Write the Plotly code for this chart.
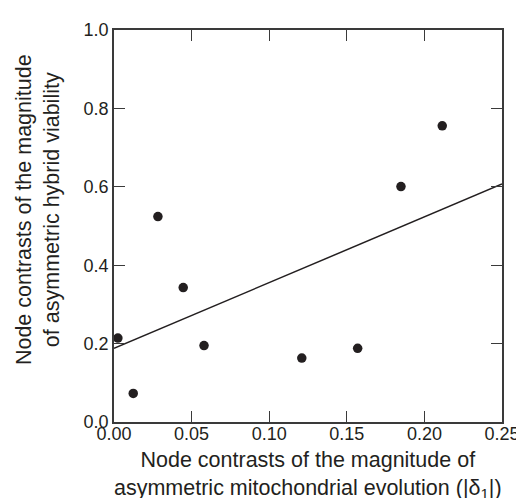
import plotly.graph_objects as go

# Data
mito_x = [0.0025, 0.0124, 0.0283, 0.0446, 0.058, 0.121, 0.157, 0.1849, 0.2115]
hybrid_y = [0.214, 0.073, 0.524, 0.343, 0.195, 0.163, 0.188, 0.6005, 0.7555]
fit_x = [0.0, 0.25]
fit_y = [0.188, 0.607]

x_ticks = [0.0, 0.05, 0.10, 0.15, 0.20, 0.25]
x_ticklabels = ["0.00", "0.05", "0.10", "0.15", "0.20", "0.25"]
y_ticks = [0.0, 0.2, 0.4, 0.6, 0.8, 1.0]
y_ticklabels = ["0.0", "0.2", "0.4", "0.6", "0.8", "1.0"]

FONT = "Liberation Sans, Arial, sans-serif"
INK = "#231f20"
TEXT = "#231f20"

fig = go.Figure()
fig.add_trace(go.Scatter(x=fit_x, y=fit_y, mode="lines",
                         line=dict(color=INK, width=1.5), showlegend=False, hoverinfo="skip"))
fig.add_trace(go.Scatter(x=mito_x, y=hybrid_y, mode="markers",
                         marker=dict(color=INK, size=9.5), showlegend=False))

axis_common = dict(showline=True, linewidth=1.5, linecolor="#3a3a3a", mirror="ticks",
                   ticks="inside", ticklen=11, tickwidth=1.2, tickcolor="#3a3a3a",
                   showgrid=False, zeroline=False,
                   tickfont=dict(family=FONT, size=18, color=TEXT))

fig.update_xaxes(range=[0, 0.25], tickvals=x_ticks, ticktext=x_ticklabels,
                 ticklabelstandoff=-5, **axis_common)
fig.update_yaxes(range=[0, 1.0], tickvals=y_ticks, ticktext=y_ticklabels, **axis_common)

fig.add_annotation(text="Node contrasts of the magnitude of<br>asymmetric mitochondrial evolution (|δ<sub>1</sub>|)",
                   xref="paper", yref="paper", x=0.5, y=-0.1344, showarrow=False,
                   xanchor="center", yanchor="middle",
                   font=dict(family=FONT, size=21.5, color=TEXT))
fig.add_annotation(text="Node contrasts of the magnitude<br>of asymmetric hybrid viability",
                   xref="paper", yref="paper", x=-0.197, y=0.542, showarrow=False,
                   textangle=-90, xanchor="center", yanchor="middle",
                   font=dict(family=FONT, size=21.5, color=TEXT))

fig.update_layout(width=524, height=498, margin=dict(l=106, r=20, t=16, b=84),
                  plot_bgcolor="white", paper_bgcolor="white", showlegend=False)

fig.write_html("out.html")
